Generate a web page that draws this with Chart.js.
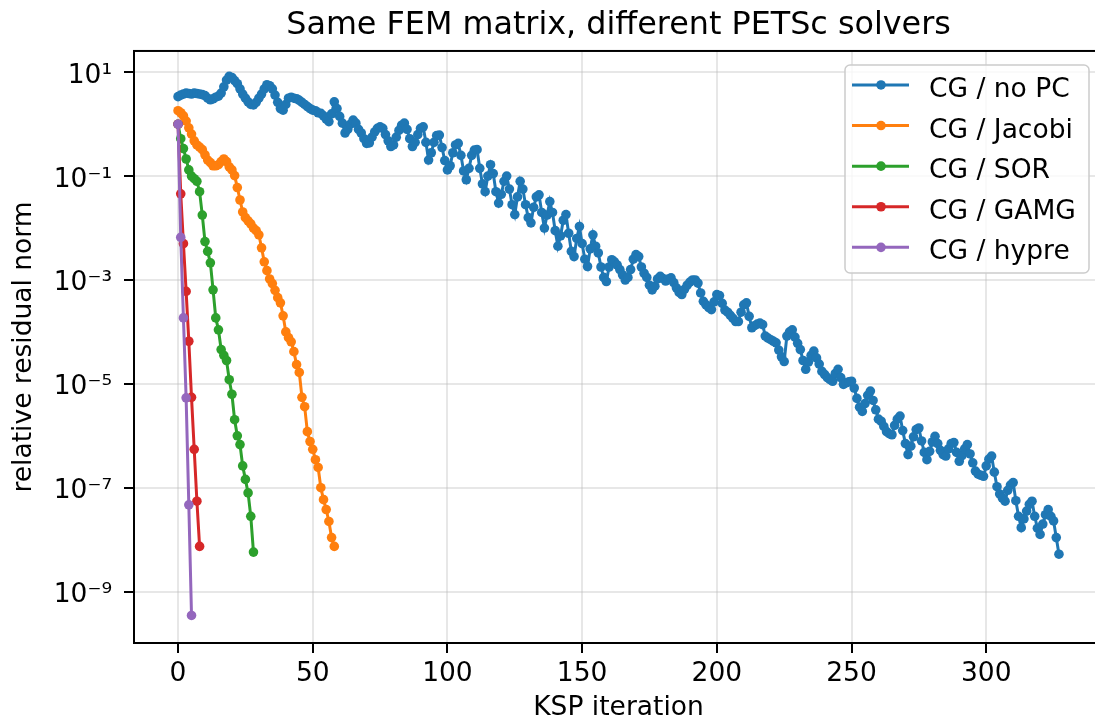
<!DOCTYPE html>
<html lang="en">
<head>
<meta charset="UTF-8">
<title>Same FEM matrix, different PETSc solvers</title>
<script src="https://cdn.jsdelivr.net/npm/chart.js@4.4.1/dist/chart.umd.min.js"></script>
<style>
  html, body { margin: 0; padding: 0; background: #fff; overflow: hidden; }
  #wrap { position: relative; width: 1110px; height: 724px; }
</style>
</head>
<body>
<div id="wrap"><canvas id="kspChart"></canvas></div>
<script>
// log10 of the relative residual norm, one entry per KSP iteration (index = iteration)
const noPcExp = [
  0.53, 0.56, 0.58, 0.60, 0.59, 0.58, 0.60, 0.59, 0.58, 0.57,
  0.55, 0.50, 0.47, 0.49, 0.52, 0.54, 0.60, 0.72, 0.85, 0.92,
  0.90, 0.84, 0.78, 0.68, 0.58, 0.50, 0.43, 0.38, 0.37, 0.42,
  0.50, 0.58, 0.68, 0.76, 0.74, 0.68, 0.56, 0.42, 0.30, 0.27,
  0.38, 0.50, 0.52, 0.50, 0.49, 0.46, 0.42, 0.38, 0.34, 0.30,
  0.27, 0.26, 0.22, 0.21, 0.16, 0.10, 0.05, 0.20, 0.43, 0.30,
  0.15, 0.02, -0.17, -0.10, 0.00, 0.08, 0.02, -0.10, -0.17, -0.28,
  -0.37, -0.36, -0.25, -0.15, -0.08, -0.05, -0.08, -0.20, -0.32, -0.43,
  -0.40, -0.25, -0.12, -0.02, 0.02, -0.10, -0.28, -0.43, -0.35, -0.20,
  -0.08, -0.05, -0.35, -0.69, -0.55, -0.35, -0.22, -0.21, -0.45, -0.70,
  -0.88, -0.80, -0.55, -0.40, -0.37, -0.60, -0.90, -1.07, -0.85, -0.60,
  -0.50, -0.49, -0.85, -1.15, -1.30, -1.00, -0.78, -0.95, -1.30, -1.52,
  -1.35, -1.10, -1.00, -1.25, -1.55, -1.74, -1.40, -1.10, -1.25, -1.55,
  -1.80, -1.90, -1.60, -1.40, -1.36, -1.70, -2.00, -1.75, -1.49, -1.70,
  -2.05, -2.35, -2.15, -1.85, -1.74, -2.10, -2.45, -2.55, -2.20, -1.97,
  -2.30, -2.60, -2.74, -2.40, -2.13, -2.35, -2.48, -2.75, -2.95, -3.03,
  -2.75, -2.61, -2.65, -2.71, -2.80, -2.90, -3.00, -2.95, -2.80, -2.60,
  -2.51, -2.55, -2.75, -2.87, -2.95, -3.10, -3.19, -3.12, -2.98, -2.93,
  -2.97, -3.02, -2.98, -2.96, -3.05, -3.15, -3.24, -3.28, -3.18, -3.10,
  -3.04, -3.00, -3.00, -3.06, -3.25, -3.41, -3.48, -3.53, -3.57, -3.42,
  -3.28, -3.30, -3.45, -3.58, -3.62, -3.68, -3.74, -3.80, -3.80, -3.62,
  -3.48, -3.44, -3.70, -3.92, -3.88, -3.85, -3.83, -3.86, -4.08, -4.12,
  -4.15, -4.18, -4.21, -4.35, -4.48, -4.57, -4.08, -4.00, -3.96, -4.10,
  -4.22, -4.34, -4.55, -4.72, -4.58, -4.45, -4.37, -4.50, -4.62, -4.76,
  -4.82, -4.88, -4.92, -4.95, -4.80, -4.72, -4.88, -5.01, -4.98, -4.96,
  -4.95, -5.08, -5.28, -5.45, -5.53, -5.38, -5.22, -5.14, -5.32, -5.50,
  -5.68, -5.72, -5.82, -5.92, -5.96, -5.98, -5.80, -5.68, -5.62, -5.90,
  -6.15, -6.36, -6.20, -6.02, -5.88, -5.85, -6.10, -6.32, -6.46, -6.30,
  -6.12, -6.01, -6.15, -6.28, -6.36, -6.39, -6.25, -6.15, -6.13, -6.32,
  -6.49, -6.38, -6.25, -6.17, -6.35, -6.52, -6.68, -6.74, -6.76, -6.78,
  -6.58, -6.45, -6.39, -6.70, -6.98, -7.12, -7.20, -7.26, -7.05, -6.95,
  -6.90, -7.25, -7.55, -7.77, -7.60, -7.45, -7.32, -7.26, -7.55, -7.78,
  -7.90, -7.70, -7.52, -7.42, -7.55, -7.64, -7.96, -8.28
];
const jacobiExp = [
  0.26, 0.22, 0.16, 0.06, -0.07, -0.19, -0.32, -0.40, -0.44, -0.49,
  -0.59, -0.69, -0.74, -0.80, -0.80, -0.78, -0.72, -0.67, -0.72, -0.82,
  -0.88, -0.99, -1.22, -1.46, -1.69, -1.80, -1.86, -1.92, -2.00, -2.05,
  -2.13, -2.38, -2.65, -2.82, -2.98, -3.07, -3.20, -3.34, -3.44, -3.69,
  -4.00, -4.11, -4.19, -4.38, -4.63, -4.78, -5.26, -5.44, -5.92, -6.11,
  -6.26, -6.46, -6.61, -7.00, -7.23, -7.42, -7.65, -7.96, -8.13
];
const sorExp = [
  0.00, -0.28, -0.47, -0.67, -0.88, -1.00, -1.05, -1.10, -1.30, -1.75,
  -2.26, -2.45, -2.67, -3.19, -3.73, -3.96, -4.34, -4.45, -4.55, -4.92,
  -5.20, -5.69, -6.00, -6.17, -6.58, -6.84, -7.10, -7.55, -8.24
];
const gamgExp = [0.00, -1.34, -2.30, -3.22, -4.18, -5.26, -6.26, -7.26, -8.13];
const hypreExp = [0.00, -2.18, -3.73, -5.27, -7.33, -9.46];

const seriesLabels = ['CG / no PC', 'CG / Jacobi', 'CG / SOR', 'CG / GAMG', 'CG / hypre'];
const seriesColors = ['#1f77b4', '#ff7f0e', '#2ca02c', '#d62728', '#9467bd'];
const seriesExps = [noPcExp, jacobiExp, sorExp, gamgExp, hypreExp];

const xTicks = [0, 50, 100, 150, 200, 250, 300];
const yTickExps = [1, -1, -3, -5, -7, -9];

const FONT = 'DejaVu Sans';
const FS = 26.5;
const LINE_W = 3;
const DOT_R = 4.8;

const sup = { '0': '⁰', '1': '¹', '2': '²', '3': '³', '4': '⁴', '5': '⁵', '6': '⁶', '7': '⁷', '8': '⁸', '9': '⁹', '-': '⁻' };
function tenPow(e) {
    return '10' + String(e).split('').map(c => sup[c]).join('');
}

const datasets = seriesExps.map((exps, k) => ({
    label: seriesLabels[k],
    data: exps.map((e, i) => ({ x: i, y: Math.pow(10, e) })),
    borderColor: seriesColors[k],
    backgroundColor: seriesColors[k],
    pointBackgroundColor: seriesColors[k],
    pointBorderWidth: 0,
    pointRadius: DOT_R,
    pointHoverRadius: DOT_R,
    borderWidth: LINE_W,
    tension: 0,
    order: seriesExps.length - 1 - k
}));

// axes frame drawn over the lines, like matplotlib spines
const frameBox = {
    id: 'frameBox',
    afterDatasetsDraw(chart) {
        const { ctx, chartArea: a } = chart;
        ctx.save();
        ctx.strokeStyle = '#000';
        ctx.lineWidth = 2;
        ctx.strokeRect(a.left, a.top, a.right - a.left, a.bottom - a.top);
        ctx.restore();
    }
};

// legend box in the upper right corner of the axes
const insideLegend = {
    id: 'insideLegend',
    afterDraw(chart) {
        const { ctx, chartArea: a } = chart;
        const right = a.right - 14, top = a.top + 14;
        const w = 244, h = 208, left = right - w;
        ctx.save();
        ctx.beginPath();
        ctx.roundRect(left, top, w, h, 5);
        ctx.fillStyle = 'rgba(255,255,255,0.8)';
        ctx.fill();
        ctx.strokeStyle = '#cccccc';
        ctx.lineWidth = 1.5;
        ctx.stroke();
        ctx.font = FS + 'px "' + FONT + '"';
        ctx.textBaseline = 'alphabetic';
        ctx.textAlign = 'left';
        chart.data.datasets.forEach((ds, k) => {
            const y = top + 20 + k * 40.6;
            ctx.strokeStyle = ds.borderColor;
            ctx.lineWidth = LINE_W;
            ctx.beginPath();
            ctx.moveTo(left + 7, y);
            ctx.lineTo(left + 64, y);
            ctx.stroke();
            ctx.fillStyle = ds.borderColor;
            ctx.beginPath();
            ctx.arc(left + 36, y, DOT_R, 0, Math.PI * 2);
            ctx.fill();
            ctx.fillStyle = '#000';
            ctx.fillText(ds.label, left + 84, y + 12);
        });
        ctx.restore();
    }
};

const gridColor = 'rgba(176,176,176,0.3)';

new Chart(document.getElementById('kspChart'), {
    type: 'line',
    data: { datasets: datasets },
    plugins: [frameBox, insideLegend],
    options: {
        responsive: true,
        maintainAspectRatio: false,
        animation: false,
        events: [],
        layout: { padding: { left: 0, right: 7, top: 0, bottom: 0 } },
        plugins: {
            legend: { display: false },
            tooltip: { enabled: false },
            title: {
                display: true,
                fullSize: false,
                text: 'Same FEM matrix, different PETSc solvers',
                color: '#000',
                font: { family: FONT, size: 31.8, weight: 'normal' },
                padding: { top: 6.5, bottom: 6.3 }
            }
        },
        scales: {
            x: {
                type: 'linear',
                min: -16.35,
                max: 343.35,
                afterBuildTicks: s => { s.ticks = xTicks.map(v => ({ value: v })); },
                afterFit: s => { s.height = 81; },
                grid: { color: gridColor, lineWidth: 2, tickColor: '#000', tickLength: 10, tickWidth: 2 },
                border: { display: true, color: '#000', width: 2 },
                ticks: {
                    color: '#000',
                    font: { family: FONT, size: FS },
                    padding: 5,
                    maxRotation: 0,
                    autoSkip: false
                },
                title: {
                    display: true,
                    text: 'KSP iteration',
                    color: '#000',
                    font: { family: FONT, size: FS },
                    padding: { top: 0, bottom: 0 }
                }
            },
            y: {
                type: 'logarithmic',
                min: Math.pow(10, -9.99),
                max: Math.pow(10, 1.41),
                afterBuildTicks: s => { s.ticks = yTickExps.map(e => ({ value: Math.pow(10, e) })); },
                afterFit: s => { s.width = 134; },
                grid: { color: gridColor, lineWidth: 2, tickColor: '#000', tickLength: 10, tickWidth: 2 },
                border: { display: true, color: '#000', width: 2 },
                ticks: {
                    color: '#000',
                    font: { family: FONT, size: FS },
                    padding: 12,
                    labelOffset: 3.5,
                    autoSkip: false,
                    callback: v => tenPow(Math.round(Math.log10(v)))
                },
                title: {
                    display: true,
                    text: 'relative residual norm',
                    color: '#000',
                    font: { family: FONT, size: FS },
                    padding: { top: 8, bottom: 0 }
                }
            }
        }
    }
});
</script>
</body>
</html>
